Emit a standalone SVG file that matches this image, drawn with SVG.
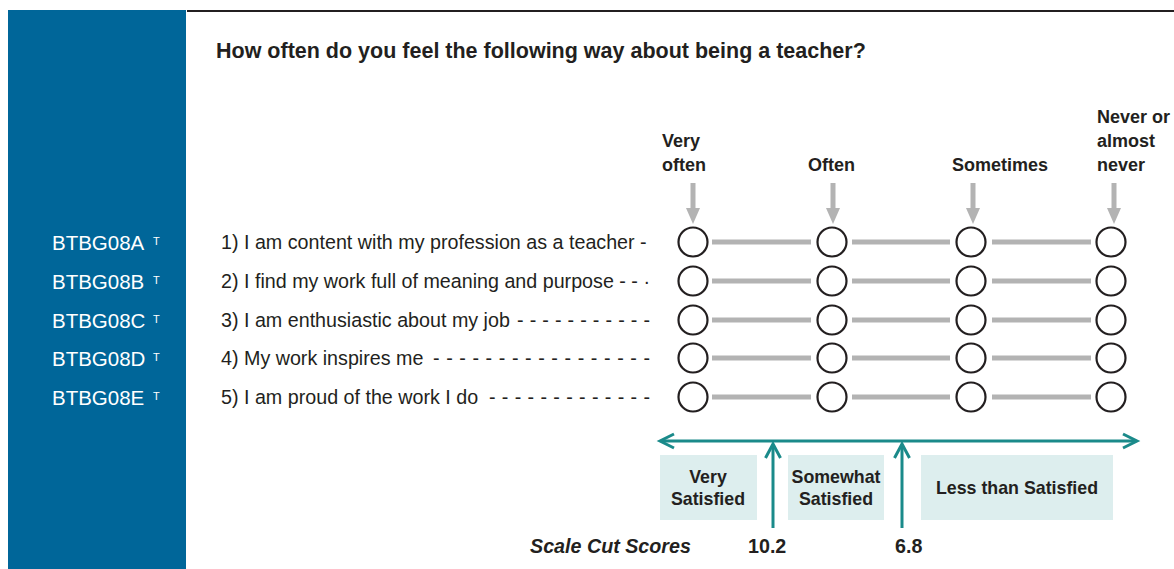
<svg xmlns="http://www.w3.org/2000/svg" width="1174" height="569" viewBox="0 0 1174 569">
<style>
text{font-family:"Liberation Sans",Arial,sans-serif;}
.code{fill:#fff;font-size:20.5px;}
.sup{fill:#fff;font-size:11px;}
.item{fill:#231f20;font-size:19.7px;}
.lab{fill:#231f20;font-size:18px;font-weight:bold;}
.band{fill:#231f20;font-size:17.8px;font-weight:bold;text-anchor:middle;}
.circ{fill:#fff;stroke:#231f20;stroke-width:2.2;}
.bar{stroke:#b3b3b3;stroke-width:5;}
.garr{stroke:#b3b3b3;stroke-width:5;}
.teal{stroke:#1a8a8a;stroke-width:3;fill:none;}
.box{fill:#ddeeee;}
</style>
<rect x="8" y="10" width="178" height="559" fill="#006699"/>
<line x1="187" y1="11" x2="1174" y2="11" stroke="#231f20" stroke-width="2"/>
<text x="216" y="58" style="font-size:21.5px;font-weight:bold;fill:#231f20">How often do you feel the following way about being a teacher?</text>

<g id="header-labels">
<text class="lab" x="662" y="147">Very</text>
<text class="lab" x="662" y="171">often</text>
<text class="lab" x="808" y="171">Often</text>
<text class="lab" x="952" y="171">Sometimes</text>
<text class="lab" x="1097" y="123">Never or</text>
<text class="lab" x="1097" y="147">almost</text>
<text class="lab" x="1097" y="171">never</text>
</g>

<g id="connectors">
<path d="M693,183 V210" class="garr"/><path d="M686,208 L693,224 L700,208 Z" fill="#b3b3b3"/>
<path d="M833,183 V210" class="garr"/><path d="M826,208 L833,224 L840,208 Z" fill="#b3b3b3"/>
<path d="M973,183 V210" class="garr"/><path d="M966,208 L973,224 L980,208 Z" fill="#b3b3b3"/>
<path d="M1114,183 V210" class="garr"/><path d="M1107,208 L1114,224 L1121,208 Z" fill="#b3b3b3"/>
<g class="bar">
<line x1="712" y1="242" x2="811" y2="242"/><line x1="852" y1="242" x2="950" y2="242"/><line x1="992" y1="242" x2="1091" y2="242"/>
<line x1="712" y1="281" x2="811" y2="281"/><line x1="852" y1="281" x2="950" y2="281"/><line x1="992" y1="281" x2="1091" y2="281"/>
<line x1="712" y1="320" x2="811" y2="320"/><line x1="852" y1="320" x2="950" y2="320"/><line x1="992" y1="320" x2="1091" y2="320"/>
<line x1="712" y1="358" x2="811" y2="358"/><line x1="852" y1="358" x2="950" y2="358"/><line x1="992" y1="358" x2="1091" y2="358"/>
<line x1="712" y1="397" x2="811" y2="397"/><line x1="852" y1="397" x2="950" y2="397"/><line x1="992" y1="397" x2="1091" y2="397"/>
</g>
<line x1="661" y1="441" x2="1136" y2="441" class="teal"/>
<path d="M674,434 L660,441 L674,448" class="teal"/>
<path d="M1123,434 L1137,441 L1123,448" class="teal"/>
<line x1="773" y1="446" x2="773" y2="528" class="teal"/>
<path d="M765.5,458 L773,444 L780.5,458" class="teal"/>
<line x1="902" y1="446" x2="902" y2="528" class="teal"/>
<path d="M894.5,458 L902,444 L909.5,458" class="teal"/>
</g>

<g id="row1">
<text class="code" x="52" y="250">BTBG08A</text><text class="sup" x="153" y="245">T</text>
<text class="item" x="221" y="249">1) I am content with my profession as a teacher -</text>
<circle class="circ" cx="693" cy="242" r="14.5"/><circle class="circ" cx="832" cy="242" r="14.5"/><circle class="circ" cx="971" cy="242" r="14.5"/><circle class="circ" cx="1111" cy="242" r="14.5"/>
</g>
<g id="row2">
<text class="code" x="52" y="289">BTBG08B</text><text class="sup" x="153" y="284">T</text>
<text class="item" x="221" y="288">2) I find my work full of meaning and purpose - - ·</text>
<circle class="circ" cx="693" cy="281" r="14.5"/><circle class="circ" cx="832" cy="281" r="14.5"/><circle class="circ" cx="971" cy="281" r="14.5"/><circle class="circ" cx="1111" cy="281" r="14.5"/>
</g>
<g id="row3">
<text class="code" x="52" y="328">BTBG08C</text><text class="sup" x="153" y="323">T</text>
<text class="item" x="221" y="327">3) I am enthusiastic about my job</text>
<text class="item" x="517" y="327" textLength="133" lengthAdjust="spacing">- - - - - - - - - - -</text>
<circle class="circ" cx="693" cy="320" r="14.5"/><circle class="circ" cx="832" cy="320" r="14.5"/><circle class="circ" cx="971" cy="320" r="14.5"/><circle class="circ" cx="1111" cy="320" r="14.5"/>
</g>
<g id="row4">
<text class="code" x="52" y="366">BTBG08D</text><text class="sup" x="153" y="361">T</text>
<text class="item" x="221" y="365">4) My work inspires me</text>
<text class="item" x="433" y="365" textLength="217" lengthAdjust="spacing">- - - - - - - - - - - - - - - - -</text>
<circle class="circ" cx="693" cy="358" r="14.5"/><circle class="circ" cx="832" cy="358" r="14.5"/><circle class="circ" cx="971" cy="358" r="14.5"/><circle class="circ" cx="1111" cy="358" r="14.5"/>
</g>
<g id="row5">
<text class="code" x="52" y="405">BTBG08E</text><text class="sup" x="153" y="400">T</text>
<text class="item" x="221" y="404">5) I am proud of the work I do</text>
<text class="item" x="489" y="404" textLength="161" lengthAdjust="spacing">- - - - - - - - - - - - -</text>
<circle class="circ" cx="693" cy="397" r="14.5"/><circle class="circ" cx="832" cy="397" r="14.5"/><circle class="circ" cx="971" cy="397" r="14.5"/><circle class="circ" cx="1111" cy="397" r="14.5"/>
</g>

<g id="band-very">
<rect class="box" x="660" y="455" width="97" height="65"/>
<text class="band" x="708" y="483">Very</text>
<text class="band" x="708" y="505">Satisfied</text>
</g>
<g id="band-somewhat">
<rect class="box" x="788" y="455" width="96" height="65"/>
<text class="band" x="836" y="483">Somewhat</text>
<text class="band" x="836" y="505">Satisfied</text>
</g>
<g id="band-less">
<rect class="box" x="921" y="455" width="192" height="65"/>
<text class="band" x="1017" y="494">Less than Satisfied</text>
</g>
<g id="cut-scores">
<text x="530" y="553" style="font-size:19.7px;font-weight:bold;font-style:italic;fill:#231f20">Scale Cut Scores</text>
<text x="748" y="553" style="font-size:19.7px;font-weight:bold;fill:#231f20">10.2</text>
<text x="895" y="553" style="font-size:19.7px;font-weight:bold;fill:#231f20">6.8</text>
</g>
</svg>
